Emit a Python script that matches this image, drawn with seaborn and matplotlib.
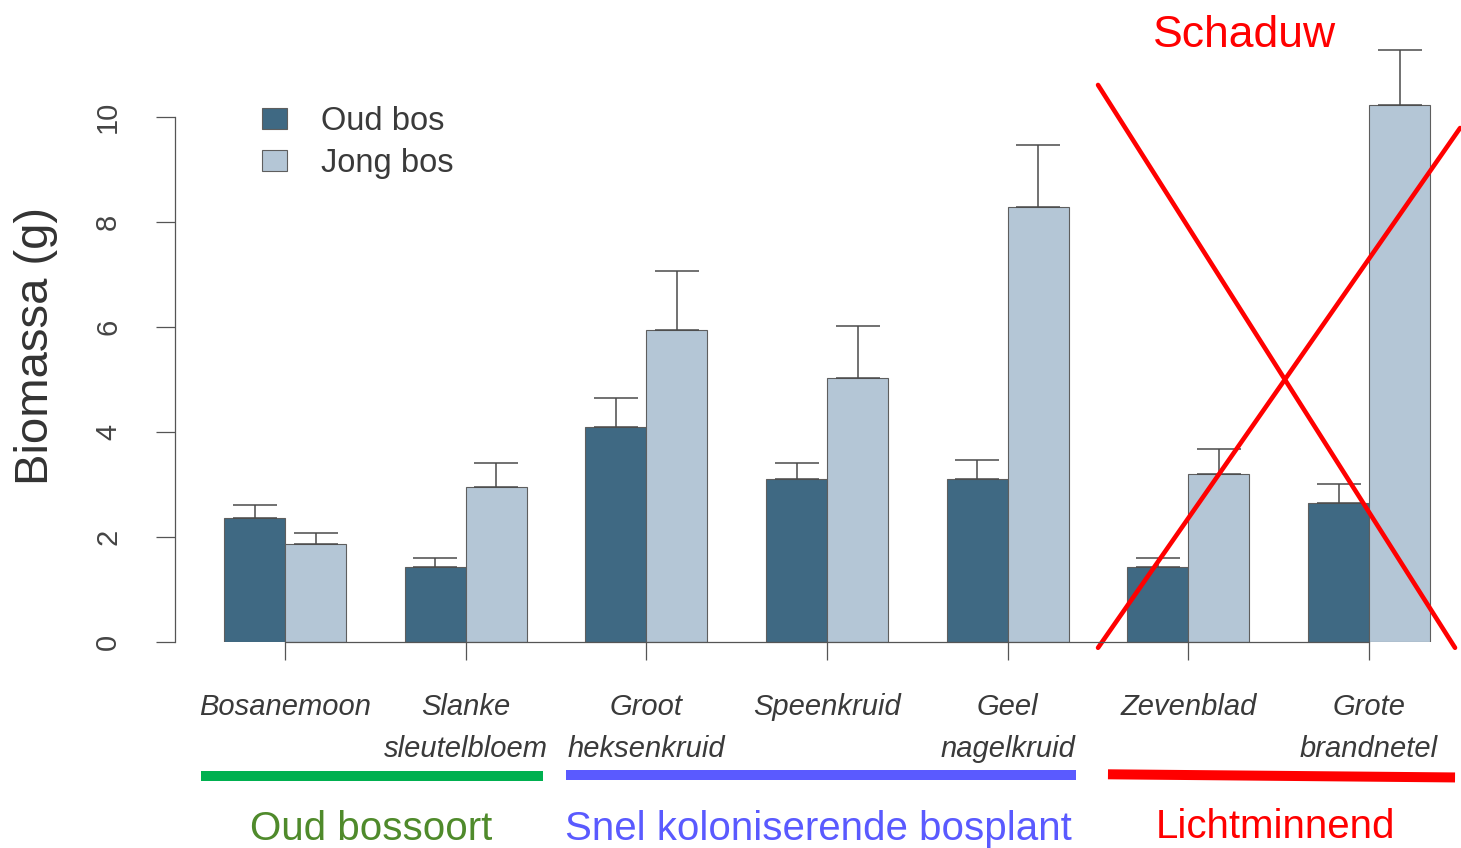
import matplotlib
matplotlib.use('Agg')
import matplotlib.pyplot as plt
from matplotlib import font_manager
import seaborn as sns
import pandas as pd

# biomass per species, old forest vs young forest
species = ['Bosanemoon', 'Slanke\nsleutelbloem', 'Groot\nheksenkruid', 'Speenkruid',
           'Geel\nnagelkruid', 'Zevenblad', 'Grote\nbrandnetel']
oud_bos = [2.36, 1.42, 4.10, 3.10, 3.10, 1.42, 2.65]
oud_bos_err = [0.25, 0.18, 0.55, 0.31, 0.37, 0.18, 0.36]
jong_bos = [1.87, 2.95, 5.95, 5.02, 8.28, 3.20, 10.23]
jong_bos_err = [0.20, 0.46, 1.12, 0.99, 1.19, 0.48, 1.05]
groups = ['Oud bos', 'Jong bos']

sns.set_style('white')
narrow = any(f.name == 'Liberation Sans Narrow' for f in font_manager.fontManager.ttflist)
plt.rcParams['font.family'] = ['Liberation Sans', 'DejaVu Sans']
r_font = ['Liberation Sans Narrow', 'Liberation Sans'] if narrow else ['Liberation Sans']
scale = 1.0 if narrow else 0.84

df = pd.DataFrame({
    'soort': species * 2,
    'bos': [groups[0]] * len(species) + [groups[1]] * len(species),
    'biomassa': oud_bos + jong_bos,
})

fig = plt.figure(figsize=(14.61, 8.48), dpi=100)
ax = fig.add_axes([175 / 1461, 1 - 642 / 848, 1 - 175 / 1461, 630 / 848])

sns.barplot(data=df, x='soort', y='biomassa', hue='bos', order=species, hue_order=groups,
            palette={'Oud bos': '#3f6983', 'Jong bos': '#b4c6d6'}, saturation=1,
            errorbar=None, width=0.675, edgecolor='#5e5e5e', linewidth=0.8, ax=ax)

# upper error bars only
for cont, err in zip(ax.containers, [oud_bos_err, jong_bos_err]):
    xs = [b.get_x() + b.get_width() / 2 for b in cont]
    ys = [b.get_height() for b in cont]
    ax.errorbar(xs, ys, yerr=[[0] * len(err), err], fmt='none', ecolor='#4a4a4a',
                elinewidth=1.1, capsize=16, capthick=1.1, clip_on=False)

ax.set_xlim(-0.609, 6.509)
ax.set_ylim(0, 12.0)
ax.set_yticks([0, 2, 4, 6, 8, 10])
ax.set_xlabel('')
ax.set_ylabel('Biomassa (g)', fontsize=34, color='#333333')
ax.yaxis.set_label_coords(-0.091, 0.47)

for s in ['top', 'right']:
    ax.spines[s].set_visible(False)
ax.spines['left'].set_bounds(0, 10)
ax.spines['bottom'].set_bounds(0, 6)
for s in ['left', 'bottom']:
    ax.spines[s].set_color('#555555')
    ax.spines[s].set_linewidth(0.9)

ax.tick_params(axis='y', left=True, length=14, width=0.9, color='#555555', pad=24,
               labelsize=21, labelcolor='#444444', labelrotation=90)
for lab in ax.get_yticklabels():
    lab.set_verticalalignment('center')
    lab.set_family(r_font)
ax.tick_params(axis='x', bottom=True, length=13, width=0.9, color='#555555', pad=24,
               labelsize=25 * scale, labelcolor='#3a3a3a')
for lab in ax.get_xticklabels():
    lab.set_fontstyle('italic')
    lab.set_family(r_font)
    lab.set_linespacing(1.6)

leg = ax.legend(loc='upper left', bbox_to_anchor=(0.045, 0.898), frameon=False,
                prop={'family': r_font, 'size': 28 * scale}, handlelength=0.75,
                handleheight=0.6, handletextpad=1.05, labelspacing=0.35)
for t in leg.get_texts():
    t.set_color('#3a3a3a')

# annotations on top of the chart
red = '#ff0000'
ax.plot([4.50, 6.476], [10.61, -0.11], color=red, lw=3.3, clip_on=False)
ax.plot([4.50, 6.504], [-0.11, 9.79], color=red, lw=3.3, clip_on=False)
ax.text(5.31, 11.55, 'Schaduw', color=red, fontsize=32, ha='center', va='center')

ax.plot([-0.465, 1.428], [-2.55, -2.55], color='#00b050', lw=7.2, clip_on=False,
        solid_capstyle='butt')
ax.plot([1.555, 4.378], [-2.53, -2.53], color='#5a5aff', lw=7.2, clip_on=False,
        solid_capstyle='butt')
ax.plot([4.555, 6.476], [-2.52, -2.58], color=red, lw=7.2, clip_on=False,
        solid_capstyle='butt')
ax.text(0.476, -3.56, 'Oud bossoort', color='#4f8a2b', fontsize=29, ha='center', va='center')
ax.text(2.95, -3.56, 'Snel koloniserende bosplant', color='#5a5aff', fontsize=29,
        ha='center', va='center')
ax.text(5.485, -3.53, 'Lichtminnend', color=red, fontsize=29, ha='center', va='center')

fig.savefig('out.png', dpi=100)
